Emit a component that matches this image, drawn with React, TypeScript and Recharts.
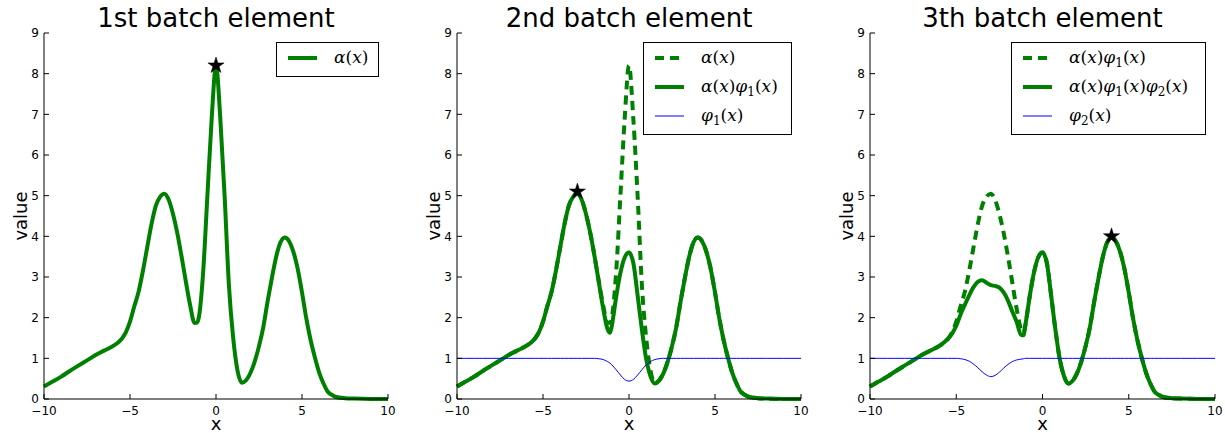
import React from "react";
import { ComposedChart, Line, Scatter, XAxis, YAxis } from "recharts";

const xGrid = [
  -10, -9.5, -9, -8.5, -8, -7.5, -7, -6.5, -6, -5.5,
  -5.25, -5, -4.75, -4.5, -4.25, -4, -3.75, -3.5, -3.25, -3,
  -2.75, -2.5, -2.25, -2, -1.75, -1.5, -1.25, -1.1, -1, -0.75,
  -0.5, -0.25, 0, 0.25, 0.5, 0.75, 1, 1.25, 1.5, 1.75,
  2, 2.25, 2.5, 2.75, 3, 3.25, 3.5, 3.75, 4, 4.25,
  4.5, 4.75, 5, 5.25, 5.5, 5.75, 6, 6.25, 6.5, 6.75,
  7, 7.5, 8, 9, 10,
];

const alpha = [
  0.31, 0.43, 0.55, 0.69, 0.82, 0.95, 1.08, 1.19, 1.3, 1.47,
  1.63, 1.9, 2.28, 2.64, 3.15, 3.73, 4.3, 4.75, 4.97, 5.05,
  4.9, 4.55, 4.08, 3.5, 2.88, 2.3, 1.87, 1.88, 2.0, 3.1,
  5.0, 6.9, 8.2, 6.9, 5.0, 2.8, 1.5, 0.7, 0.4, 0.46,
  0.64, 0.92, 1.3, 1.77, 2.4, 2.98, 3.5, 3.85, 3.97, 3.88,
  3.62, 3.2, 2.62, 1.98, 1.45, 1.02, 0.65, 0.38, 0.18, 0.1,
  0.05, 0.02, 0.01, 0, 0,
];

const phi1 = [
  1, 1, 1, 1, 1, 1, 1, 1, 1, 1,
  1, 1, 1, 1, 1, 1, 1, 1, 1, 1,
  1, 1, 1, 1, 0.99, 0.97, 0.92, 0.88, 0.84, 0.72,
  0.59, 0.48, 0.44, 0.48, 0.59, 0.72, 0.84, 0.92, 0.97, 0.99,
  1, 1, 1, 1, 1, 1, 1, 1, 1, 1,
  1, 1, 1, 1, 1, 1, 1, 1, 1, 1,
  1, 1, 1, 1, 1,
];

const alphaPhi1 = [
  0.31, 0.43, 0.55, 0.69, 0.82, 0.95, 1.08, 1.19, 1.3, 1.47,
  1.63, 1.9, 2.28, 2.64, 3.15, 3.73, 4.3, 4.75, 4.97, 5.05,
  4.9, 4.55, 4.08, 3.5, 2.86, 2.22, 1.72, 1.63, 1.8, 2.5,
  3.1, 3.48, 3.6, 3.35, 2.55, 1.7, 0.98, 0.56, 0.38, 0.45,
  0.63, 0.92, 1.3, 1.77, 2.4, 2.98, 3.5, 3.85, 3.97, 3.88,
  3.62, 3.2, 2.62, 1.98, 1.45, 1.02, 0.65, 0.38, 0.18, 0.1,
  0.05, 0.02, 0.01, 0, 0,
];

const phi2 = [
  1, 1, 1, 1, 1, 1, 1, 1, 1, 1,
  1, 1, 0.99, 0.97, 0.93, 0.86, 0.77, 0.67, 0.59, 0.55,
  0.58, 0.66, 0.76, 0.85, 0.92, 0.96, 0.98, 0.99, 1, 1,
  1, 1, 1, 1, 1, 1, 1, 1, 1, 1,
  1, 1, 1, 1, 1, 1, 1, 1, 1, 1,
  1, 1, 1, 1, 1, 1, 1, 1, 1, 1,
  1, 1, 1, 1, 1,
];

const alphaPhi1Phi2 = [
  0.31, 0.43, 0.55, 0.69, 0.82, 0.95, 1.08, 1.19, 1.3, 1.47,
  1.6, 1.8, 2.08, 2.32, 2.55, 2.75, 2.88, 2.92, 2.86, 2.8,
  2.78, 2.74, 2.62, 2.42, 2.15, 1.9, 1.58, 1.57, 1.8, 2.5,
  3.1, 3.48, 3.6, 3.35, 2.55, 1.7, 0.98, 0.56, 0.38, 0.45,
  0.63, 0.92, 1.3, 1.77, 2.4, 2.98, 3.5, 3.85, 3.97, 3.88,
  3.62, 3.2, 2.62, 1.98, 1.45, 1.02, 0.65, 0.38, 0.18, 0.1,
  0.05, 0.02, 0.01, 0, 0,
];

// maximum marked with a star in each panel
const starX = [0, -3, 4];
const starY = [8.2, 5.1, 4.0];

const titles = ["1st batch element", "2nd batch element", "3th batch element"];
const xTicks = [-10, -5, 0, 5, 10];
const yTicks = [0, 1, 2, 3, 4, 5, 6, 7, 8, 9];

const rows = xGrid.map((x, i) => ({
  x,
  alpha: alpha[i],
  phi1: phi1[i],
  alphaPhi1: alphaPhi1[i],
  phi2: phi2[i],
  alphaPhi1Phi2: alphaPhi1Phi2[i],
}));

const GREEN = "#008000";
const BLUE = "#0000ff";
const SANS = "DejaVu Sans";
const SERIF = "DejaVu Serif";

type Series = { key: string; label: string; kind: "dashed" | "solid" | "thin" };

const panelSeries: Series[][] = [
  [{ key: "alpha", label: "α(x)", kind: "solid" }],
  [
    { key: "alpha", label: "α(x)", kind: "dashed" },
    { key: "alphaPhi1", label: "α(x)φ_1(x)", kind: "solid" },
    { key: "phi1", label: "φ_1(x)", kind: "thin" },
  ],
  [
    { key: "alphaPhi1", label: "α(x)φ_1(x)", kind: "dashed" },
    { key: "alphaPhi1Phi2", label: "α(x)φ_1(x)φ_2(x)", kind: "solid" },
    { key: "phi2", label: "φ_2(x)", kind: "thin" },
  ],
];

// pixel layout of the three axes boxes
const layout = [
  { left: 0, width: 420, plotLeft: 44, plotRight: 388, legendWidth: 103 },
  { left: 420, width: 410, plotLeft: 457, plotRight: 801, legendWidth: 149 },
  { left: 830, width: 395, plotLeft: 870, plotRight: 1215, legendWidth: 195 },
];

const strokeFor = (kind: Series["kind"]) =>
  kind === "thin"
    ? { stroke: BLUE, strokeWidth: 1 }
    : { stroke: GREEN, strokeWidth: 4, strokeDasharray: kind === "dashed" ? "9 6" : undefined };

const fmtTick = (v: number) => (v < 0 ? `\u2212${-v}` : `${v}`);

function Star(props: any) {
  const { cx, cy } = props;
  const R = 8.5;
  const r = R * 0.382;
  const pts: string[] = [];
  for (let i = 0; i < 10; i++) {
    const a = -Math.PI / 2 + (i * Math.PI) / 5;
    const rad = i % 2 === 0 ? R : r;
    pts.push(`${cx + rad * Math.cos(a)},${cy + rad * Math.sin(a)}`);
  }
  return <polygon points={pts.join(" ")} fill="#000" stroke="#000" strokeWidth={0.5} />;
}

function MathText({ tex }: { tex: string }) {
  const parts: React.ReactNode[] = [];
  for (let i = 0; i < tex.length; i++) {
    const ch = tex[i];
    if (ch === "_") {
      parts.push(
        <span key={i} style={{ fontSize: 12, fontStyle: "normal", position: "relative", top: 4 }}>
          {tex[i + 1]}
        </span>
      );
      i++;
    } else if (ch === "(" || ch === ")") {
      parts.push(<span key={i}>{ch}</span>);
    } else {
      parts.push(
        <span key={i} style={{ fontStyle: "italic" }}>
          {ch}
        </span>
      );
    }
  }
  return <span>{parts}</span>;
}

function LegendBox({ series, width, left }: { series: Series[]; width: number; left: number }) {
  return (
    <div
      style={{
        position: "absolute",
        top: 42,
        left,
        width,
        boxSizing: "border-box",
        border: "1px solid #000",
        background: "#fff",
        paddingBottom: 4,
      }}
    >
      {series.map((s) => {
        const st = strokeFor(s.kind);
        return (
          <div key={s.key} style={{ display: "flex", alignItems: "center", height: 29 }}>
            <svg width={29} height={8} style={{ marginLeft: 11, flex: "none" }}>
              <line x1={0} x2={29} y1={4} y2={4} {...st} />
            </svg>
            <span style={{ marginLeft: 17, fontFamily: SERIF, fontSize: 17, whiteSpace: "nowrap", lineHeight: 1 }}>
              <MathText tex={s.label} />
            </span>
          </div>
        );
      })}
    </div>
  );
}

function Panel({ idx }: { idx: number }) {
  const p = layout[idx];
  const yAxisW = p.plotLeft - p.left;
  const plotW = p.plotRight - p.plotLeft;
  const marginRight = p.left + p.width - p.plotRight;
  const series = panelSeries[idx];
  const star = [{ x: starX[idx], y: starY[idx] }];
  const tickStyle = { fill: "#000", fontSize: 12, fontFamily: SANS };
  const black = { stroke: "#000", strokeWidth: 1 };

  return (
    <div style={{ position: "absolute", left: p.left, top: 0, width: p.width, height: 433 }}>
      <div
        style={{
          position: "absolute",
          left: yAxisW,
          top: 5,
          width: plotW,
          textAlign: "center",
          fontFamily: SANS,
          fontSize: 26,
          lineHeight: "26px",
          whiteSpace: "nowrap",
          color: "#000",
        }}
      >
        {titles[idx]}
      </div>
      <ComposedChart
        width={p.width}
        height={433}
        data={rows}
        margin={{ top: 33, right: marginRight, bottom: 0, left: 0 }}
      >
        <XAxis
          xAxisId="b"
          dataKey="x"
          type="number"
          domain={[-10, 10]}
          ticks={xTicks}
          interval={0}
          tickFormatter={fmtTick}
          tickSize={-5}
          tickMargin={12}
          height={34}
          axisLine={black}
          tickLine={black}
          tick={tickStyle}
          label={() => (
            <text
              x={yAxisW + plotW / 2}
              y={430}
              textAnchor="middle"
              fill="#000"
              fontSize={18}
              fontFamily={SANS}
            >
              x
            </text>
          )}
        />
        <XAxis
          xAxisId="t"
          orientation="top"
          dataKey="x"
          type="number"
          domain={[-10, 10]}
          ticks={xTicks}
          interval={0}
          height={0}
          tick={false}
          tickSize={-5}
          axisLine={black}
          tickLine={black}
        />
        <YAxis
          yAxisId="l"
          type="number"
          domain={[0, 9]}
          ticks={yTicks}
          interval={0}
          width={yAxisW}
          tickSize={-5}
          tickMargin={10}
          axisLine={black}
          tickLine={black}
          tick={tickStyle}
          label={() => (
            <text
              x={yAxisW - 17}
              y={216}
              transform={`rotate(-90, ${yAxisW - 17}, 216)`}
              textAnchor="middle"
              fill="#000"
              fontSize={18}
              fontFamily={SANS}
            >
              value
            </text>
          )}
        />
        <YAxis
          yAxisId="r"
          orientation="right"
          dataKey="y"
          type="number"
          domain={[0, 9]}
          ticks={yTicks}
          interval={0}
          width={0}
          tick={false}
          tickSize={-5}
          axisLine={black}
          tickLine={black}
        />
        {series.map((s) => (
          <Line
            key={s.key}
            xAxisId="b"
            yAxisId="l"
            type="monotone"
            dataKey={s.key}
            dot={false}
            activeDot={false}
            isAnimationActive={false}
            {...strokeFor(s.kind)}
          />
        ))}
        <Scatter xAxisId="t" yAxisId="r" data={star} shape={<Star />} isAnimationActive={false} />
      </ComposedChart>
      <LegendBox series={series} width={p.legendWidth} left={p.plotRight - p.left - 9 - p.legendWidth} />
    </div>
  );
}

export default function App() {
  return (
    <div style={{ position: "absolute", left: 0, top: 0, width: 1225, height: 433, background: "#fff" }}>
      {layout.map((_, i) => (
        <Panel key={i} idx={i} />
      ))}
    </div>
  );
}
